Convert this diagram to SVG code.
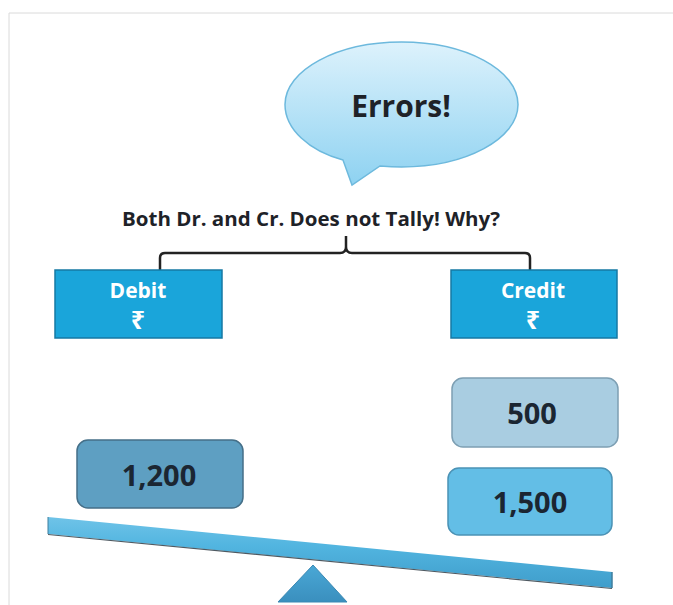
<svg xmlns="http://www.w3.org/2000/svg" width="673" height="605" viewBox="0 0 673 605">
<defs>
  <linearGradient id="bubbleGrad" x1="0" y1="0" x2="0" y2="1">
    <stop offset="0" stop-color="#DDF2FC"/>
    <stop offset="1" stop-color="#8ED2F1"/>
  </linearGradient>
  <linearGradient id="beamGrad" x1="0" y1="0" x2="0" y2="1">
    <stop offset="0" stop-color="#6FC3E8"/>
    <stop offset="0.4" stop-color="#52B5E0"/>
    <stop offset="1" stop-color="#3F9DCB"/>
  </linearGradient>
  <linearGradient id="triGrad" x1="0" y1="0" x2="0" y2="1">
    <stop offset="0" stop-color="#4AA8D6"/>
    <stop offset="1" stop-color="#3A8FBE"/>
  </linearGradient>
</defs>
<style>
  .ttl{font-family:"Open Sans","Noto Sans","DejaVu Sans",sans-serif;font-weight:bold;fill:#1E2228;text-anchor:middle}
  .acct{fill:#1AA5DA;stroke:#1679A4;stroke-width:1.5}
  .acctTxt{font-family:"Open Sans","Noto Sans","DejaVu Sans",sans-serif;font-weight:bold;fill:#FFFFFF;font-size:21px;text-anchor:middle}
  .rupee{font-family:"Noto Sans","DejaVu Sans",sans-serif;font-weight:bold;fill:#FFFFFF;font-size:25px;text-anchor:middle}
  .num{font-family:"Open Sans","Noto Sans","DejaVu Sans",sans-serif;font-weight:bold;fill:#1B2632;font-size:29px;text-anchor:middle}
  .conn{fill:none;stroke:#222222;stroke-width:2.5;stroke-linejoin:round}
</style>
<rect x="0" y="0" width="673" height="605" fill="#FFFFFF"/>
<path d="M9,605 L9,13 L673,13" fill="none" stroke="#DADADA" stroke-width="1"/>

<g id="bubble">
  <path d="M401.5,42 C465.8,42 518,70 518,104.5 C518,139 465.8,167 401.5,167 C394,167 386,166.5 380,166 L352,185 L343,160 C309,151 285,129 285,104.5 C285,70 337.2,42 401.5,42 Z" fill="url(#bubbleGrad)" stroke="#6DB9DD" stroke-width="1.5"/>
  <text class="ttl" x="401" y="117" font-size="30">Errors!</text>
</g>

<g id="question">
  <text class="ttl" x="311" y="226" font-size="20" textLength="378" lengthAdjust="spacingAndGlyphs">Both Dr. and Cr. Does not Tally! Why?</text>
</g>

<g id="connectors">
  <path class="conn" d="M160,271 L160,258 Q160,253 165,253 L340,253 Q346,253 346,247 L346,236 M346,247 Q346,253 352,253 L525,253 Q530,253 530,258 L530,271"/>
</g>

<g id="debit">
  <rect class="acct" x="55" y="270" width="167" height="68"/>
  <text class="acctTxt" x="138" y="298">Debit</text>
  <text class="rupee" x="138" y="329">₹</text>
</g>

<g id="credit">
  <rect class="acct" x="451" y="270" width="166" height="68"/>
  <text class="acctTxt" x="533" y="298">Credit</text>
  <text class="rupee" x="533" y="329">₹</text>
</g>

<g id="box500">
  <rect x="452" y="378" width="166" height="69" rx="11" fill="#A9CDE1" stroke="#7D9FB3" stroke-width="1.5"/>
  <text class="num" x="532" y="424">500</text>
</g>

<g id="box1500">
  <rect x="448" y="468" width="164" height="67" rx="11" fill="#63BEE6" stroke="#4B92B5" stroke-width="1.5"/>
  <text class="num" x="530" y="513">1,500</text>
</g>

<g id="box1200">
  <rect x="77" y="440" width="166" height="68" rx="11" fill="#5E9FC2" stroke="#456F88" stroke-width="1.5"/>
  <text class="num" x="159" y="486">1,200</text>
</g>

<g id="beam">
  <polygon points="48,517 612,572 612,588 48,534" fill="url(#beamGrad)"/>
  <line x1="48" y1="534.5" x2="612" y2="588.5" stroke="#4F5A62" stroke-width="1.2"/>
  <line x1="48" y1="517" x2="48" y2="534" stroke="#3F7E9E" stroke-width="1"/>
  <line x1="612" y1="572" x2="612" y2="588" stroke="#3F7E9E" stroke-width="1.5"/>
</g>

<g id="fulcrum">
  <polygon points="313,565 347,602 278,602" fill="url(#triGrad)" stroke="#3A88B3" stroke-width="1"/>
</g>
</svg>
